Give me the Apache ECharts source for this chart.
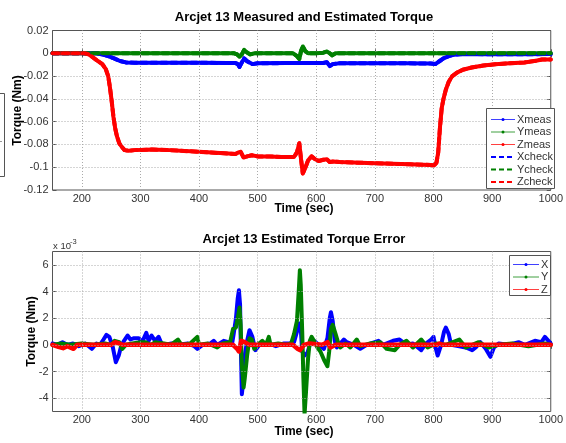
<!DOCTYPE html>
<html>
<head>
<meta charset="utf-8">
<script src="https://cdn.jsdelivr.net/npm/echarts@6/dist/echarts.min.js"></script>
<style>
html,body{margin:0;padding:0;background:#fff;}
#chart{width:566px;height:443px;}
</style>
</head>
<body>
<div id="chart"></div>
<script>
// ---------- Data: measured torque (Nm) ----------
const measTimeX = [150,225,235,245,255,265,275,290,350,400,450,462,466,469,473,477,482,491,500,550,600,612,618,623,628,640,700,750,795,803,810,817,826,835,850,900,950,1000];
const measX     = [0,0,-0.001,-0.0025,-0.0045,-0.0068,-0.008,-0.0082,-0.0082,-0.0083,-0.0085,-0.0085,-0.0095,-0.012,-0.008,-0.0045,-0.007,-0.0095,-0.0088,-0.0086,-0.0085,-0.0085,-0.0078,-0.0112,-0.0095,-0.0087,-0.0088,-0.0088,-0.009,-0.0095,-0.007,-0.0045,-0.0025,-0.0012,-0.0006,-0.0008,-0.0008,-0.0007];

const measTimeY = [150,460,465,469,473,477,481,487,495,560,566,571,574,577,581,586,600,612,618,623,627,633,700,800,900,1000];
const measY     = [0,0,-0.001,-0.003,-0.001,0.003,0.001,-0.001,0,0,-0.002,-0.005,0.002,0.006,0.002,0,0,0.0005,0.0015,0,-0.0018,0,0,0,0,0];

const measTimeZ = [150,205,212,220,228,235,241,245,248,251,254,257,260,264,268,273,280,290,320,350,400,450,462,467,471,476,482,490,500,520,540,562,567,571,574,577,581,586,592,598,604,612,618,623,629,640,700,760,795,801,805,808,811,814,817,821,826,832,840,850,865,885,905,930,955,975,985,1000];
const measZ     = [0,0,-0.001,-0.004,-0.007,-0.0095,-0.014,-0.02,-0.03,-0.042,-0.056,-0.066,-0.073,-0.079,-0.082,-0.085,-0.0855,-0.085,-0.0845,-0.085,-0.0865,-0.088,-0.0885,-0.087,-0.0865,-0.0915,-0.0905,-0.0895,-0.0905,-0.0905,-0.091,-0.091,-0.087,-0.079,-0.093,-0.1055,-0.101,-0.094,-0.0905,-0.093,-0.0945,-0.0935,-0.093,-0.0955,-0.095,-0.0955,-0.0965,-0.0975,-0.098,-0.0985,-0.096,-0.087,-0.065,-0.048,-0.04,-0.032,-0.025,-0.02,-0.017,-0.0145,-0.0125,-0.0108,-0.0097,-0.0088,-0.008,-0.0065,-0.0055,-0.0055];

// ---------- Data: estimated torque error (x 1e-3 Nm) ----------
const errTimeX = [150,158,167,175,185,195,206,217,225,231,237,242,247,253,258,263,267,272,278,283,289,297,303,310,314,319,325,331,336,342,353,364,381,392,397,406,419,425,431,442,450,456,459,463,466,468,470,471,473,476,478,482,486,491,496,503,519,531,545,555,562,565,571,573.5,576,580,585,590,596,604,613,619,623,625,628,631.5,635,641,647,652,664,675,686,706,714,731,742,754,765,779,787,796,800,804,807,813,818,821,826,830,844,855,866,872,880,889,897,903,911,928,945,956,973,984,990,996,1000];
const errX     = [0.1,0,0.2,0,0.1,-0.1,0.1,-0.3,0.1,0,0.4,0.75,0.6,-0.2,-1.3,-0.8,-0.1,0.3,0.7,0.4,0.5,0.5,0.2,0.9,0.3,0.7,0.3,0.6,0.1,0,0.1,0,0.1,-0.1,-0.3,0,0.1,0.3,0,0.3,0.2,0,0.8,2,3.5,4.1,3,0.5,-3.7,-2.5,-0.8,0.3,1.1,0.6,-0.4,0,0.1,-0.1,0.1,0.1,0.2,0.3,1.6,1.2,-0.5,-0.8,-0.6,0.2,0.3,0,-0.3,0.5,2.0,2.45,1.8,0.3,-0.2,0.1,0.4,0.2,0,-0.3,0,0.3,0,0.3,0.4,0,0.1,-0.4,0.1,0.4,0.6,-0.3,-0.8,0,1.0,1.3,0.8,0,-0.1,-0.2,-0.4,-0.2,0.2,-0.3,-0.9,-0.2,0.1,0,0.2,0,0.3,0.2,0.6,0.3,0.1];

const errTimeY = [150,165,180,200,220,240,250,256,264,269,275,286,300,308,318,325,340,352,364,370,385,397,400,415,431,440,453,458,463,466,469,471,473,476,478,482,486,490,494,500,508,514,519,522,535,548,557,562,567,570,572,573.5,576,578,580,582.5,586,589,592,596,602,607,614,619,622,625,628,633,637,641,650,658,669,675,692,709,720,734,742,754,765,779,790,804,821,844,855,877,894,911,934,962,990,1000];
const errY     = [0,0.1,0,0.1,0,0.1,0,0.3,0.2,-0.3,0,0.1,0.2,0.2,0,0.2,0.1,0,0.4,0,0.1,0.6,0,0.1,-0.2,0.1,0.2,1.2,1.3,2.0,2.8,1.5,-1.5,-3.2,-2.5,-0.8,0.5,0.4,-0.3,0,0.3,0,0.6,0,0.1,0,0.1,0.8,1.8,4,5.6,4.5,1,-2.5,-5.2,-3.5,-1,0.3,0.6,0.3,-0.2,-0.5,-1.2,-1.6,-0.5,1.2,1.5,0.8,0.2,-0.2,0.1,-0.2,0.4,-0.1,0.1,0.2,-0.3,-0.4,0,0.3,-0.2,0.4,-0.2,0.1,0,0.4,-0.2,0.2,-0.2,0,0.1,-0.1,0.1,0];

const errTimeZ = [150,160,168,175,186,192,250,257,264,270,458,465,468,472,478,486,560,568,572,579,588,610,619,621,624,633,805,810,815,1000];
const errZ     = [0,-0.15,-0.25,-0.1,-0.3,0,0,0.2,0.1,0,0,-0.3,-0.5,0.3,0.2,0,0,-0.3,-0.4,0,0.1,0,0.2,0.3,-0.2,0,0,0.1,0,0];

// ---------- Axis tick values and labels ----------
const timeTicks = [200,300,400,500,600,700,800,900,1000];
const topTicks = [-0.12,-0.1,-0.08,-0.06,-0.04,-0.02,0,0.02];
const errTicks = [-4,-2,0,2,4,6];
const topLegend = ['Xmeas','Ymeas','Zmeas','Xcheck','Ycheck','Zcheck'];
const errLegend = ['X','Y','Z'];
const titles = ['Arcjet 13 Measured and Estimated Torque','Arcjet 13 Estimated Torque Error'];

const BLUE='#0000ff', GREEN='#008000', RED='#ff0000';
const FONT='"Liberation Sans", Arial, sans-serif';
const zip=(t,v)=>t.map((x,i)=>[x,v[i]]);

const G0={left:52.5,top:30.5,width:503,height:159.5};
const G1={left:52.5,top:251.5,width:503,height:160};

function xAx(grid,pos,labels){
  return {type:'value',gridIndex:grid,position:pos,min:150,max:1000,
    axisLine:{show:false},splitLine:{show:false},
    axisTick:{show:true,inside:true,length:4,customValues:timeTicks,lineStyle:{color:'#555'}},
    axisLabel:{show:labels,customValues:timeTicks,margin:3,fontSize:11,color:'#333',fontFamily:FONT,formatter:v=>String(v)}};
}
function yAx(grid,pos,labels,min,max,ticks,fmt){
  return {type:'value',gridIndex:grid,position:pos,min:min,max:max,
    axisLine:{show:false},splitLine:{show:false},
    axisTick:{show:true,inside:true,length:4,customValues:ticks,lineStyle:{color:'#555'}},
    axisLabel:{show:labels,customValues:ticks,margin:4,fontSize:11,color:'#333',fontFamily:FONT,formatter:fmt}};
}
const fmtTop=v=>String(parseFloat((+v).toFixed(2)));
const fmtErr=v=>String(Math.round(v));

function gridSeries(xi,yi,xs,ys){
  return {type:'line',xAxisIndex:xi,yAxisIndex:yi,data:[],z:1,silent:true,
    markLine:{silent:true,symbol:['none','none'],label:{show:false},animation:false,
      lineStyle:{type:[1,2],color:'#aaa',width:1},
      data:[...xs.map(v=>({xAxis:v})),...ys.map(v=>({yAxis:v}))]}};
}
function lineS(name,xi,yi,data,color,w,dashed,z){
  return {name:name,type:'line',xAxisIndex:xi,yAxisIndex:yi,data:data,symbol:'none',
    showSymbol:false,z:z,animation:false,
    lineStyle:{color:color,width:w,type:dashed?[6,4]:'solid',join:'round',cap:'round'},
    itemStyle:{color:color}};
}

// legend graphics
function legendBox(x,y,w,h,names,colors,dashFlags,x1,x2,tx,rowY){
  const els=[{type:'rect',shape:{x:x,y:y,width:w,height:h},style:{fill:'#fff',stroke:'#555',lineWidth:1},z:100}];
  names.forEach((n,i)=>{
    const yy=rowY[i];
    els.push({type:'line',shape:{x1:x1,y1:yy,x2:x2,y2:yy},z:101,
      style:{stroke:colors[i],lineWidth:dashFlags[i]?2:1,lineDash:dashFlags[i]?[5,3]:null,opacity:dashFlags[i]?1:0.75}});
    if(!dashFlags[i]) els.push({type:'circle',shape:{cx:(x1+x2)/2,cy:yy,r:1.5},style:{fill:colors[i]},z:102});
    els.push({type:'text',x:tx,y:yy,z:102,style:{text:n,fontSize:11,fontFamily:FONT,fill:'#333',
      align:'left',verticalAlign:'middle',textAlign:'left',textVerticalAlign:'middle'}});
  });
  return els;
}
function txt(t,x,y,size,bold,rot,align){
  return {type:'text',x:x,y:y,rotation:rot||0,z:100,style:{text:t,fontSize:size,fontWeight:bold?'bold':'normal',
    fontFamily:FONT,fill:bold?'#000':'#333',align:align||'center',verticalAlign:'middle',
    textAlign:align||'center',textVerticalAlign:'middle'}};
}

const graphics=[
  txt(titles[0],304,17.5,13,true),
  txt(titles[1],304,239.5,13,true),
  txt('Time (sec)',304,209,12,true),
  txt('Time (sec)',304,432,12,true),
  txt('Torque (Nm)',18,110.5,12,true,Math.PI/2),
  txt('Torque (Nm)',31.5,331.5,12,true,Math.PI/2),
  txt('x 10',53,246,9.5,false,0,'left'),
  txt('-3',70,241.5,7.5,false,0,'left'),
  {type:'polyline',shape:{points:[[0,93.5],[4.5,93.5],[4.5,176.5],[0,176.5]]},style:{stroke:'#555',fill:null,lineWidth:1},z:100},
  {type:'line',shape:{x1:0,y1:141.5,x2:2,y2:141.5},style:{stroke:'#999',lineWidth:1},z:100},
  ...legendBox(486.5,108.5,68,80,topLegend,[BLUE,GREEN,RED,BLUE,GREEN,RED],[0,0,0,1,1,1],491,515,517,[119.5,132,144.5,157,169.5,182]),
  ...legendBox(509.5,255.5,41,40,errLegend,[BLUE,GREEN,RED],[0,0,0],513,539,541,[264.5,277,289.5])
];

const option={
  animation:false,
  backgroundColor:'#fff',
  grid:[
    Object.assign({show:true,borderColor:'#555',borderWidth:1,backgroundColor:'#fff'},G0),
    Object.assign({show:true,borderColor:'#555',borderWidth:1,backgroundColor:'#fff'},G1)
  ],
  xAxis:[xAx(0,'bottom',true),xAx(0,'top',false),xAx(1,'bottom',true),xAx(1,'top',false)],
  yAxis:[
    yAx(0,'left',true,-0.12,0.02,topTicks,fmtTop),
    yAx(0,'right',false,-0.12,0.02,topTicks,fmtTop),
    yAx(1,'left',true,-5,7,errTicks,fmtErr),
    yAx(1,'right',false,-5,7,errTicks,fmtErr)
  ],
  series:[
    gridSeries(0,0,[200,300,400,500,600,700,800,900],[-0.1,-0.08,-0.06,-0.04,-0.02,0]),
    gridSeries(2,2,[200,300,400,500,600,700,800,900],[-4,-2,0,2,4,6]),
    lineS('Xmeas',0,0,zip(measTimeX,measX),BLUE,4,false,2),
    lineS('Ymeas',0,0,zip(measTimeY,measY),GREEN,4,false,3),
    lineS('Zmeas',0,0,zip(measTimeZ,measZ),RED,4,false,4),
    lineS('Xcheck',0,0,zip(measTimeX,measX),BLUE,4,true,5),
    lineS('Ycheck',0,0,zip(measTimeY,measY),GREEN,4,true,6),
    lineS('Zcheck',0,0,zip(measTimeZ,measZ),RED,4,true,7),
    lineS('X',2,2,zip(errTimeX,errX),BLUE,4,false,2),
    lineS('Y',2,2,zip(errTimeY,errY),GREEN,4,false,3),
    lineS('Z',2,2,zip(errTimeZ,errZ),RED,4.5,false,4)
  ],
  graphic:graphics
};
const chart=echarts.init(document.getElementById('chart'),null,{renderer:'canvas'});
chart.setOption(option);
</script>
</body>
</html>
